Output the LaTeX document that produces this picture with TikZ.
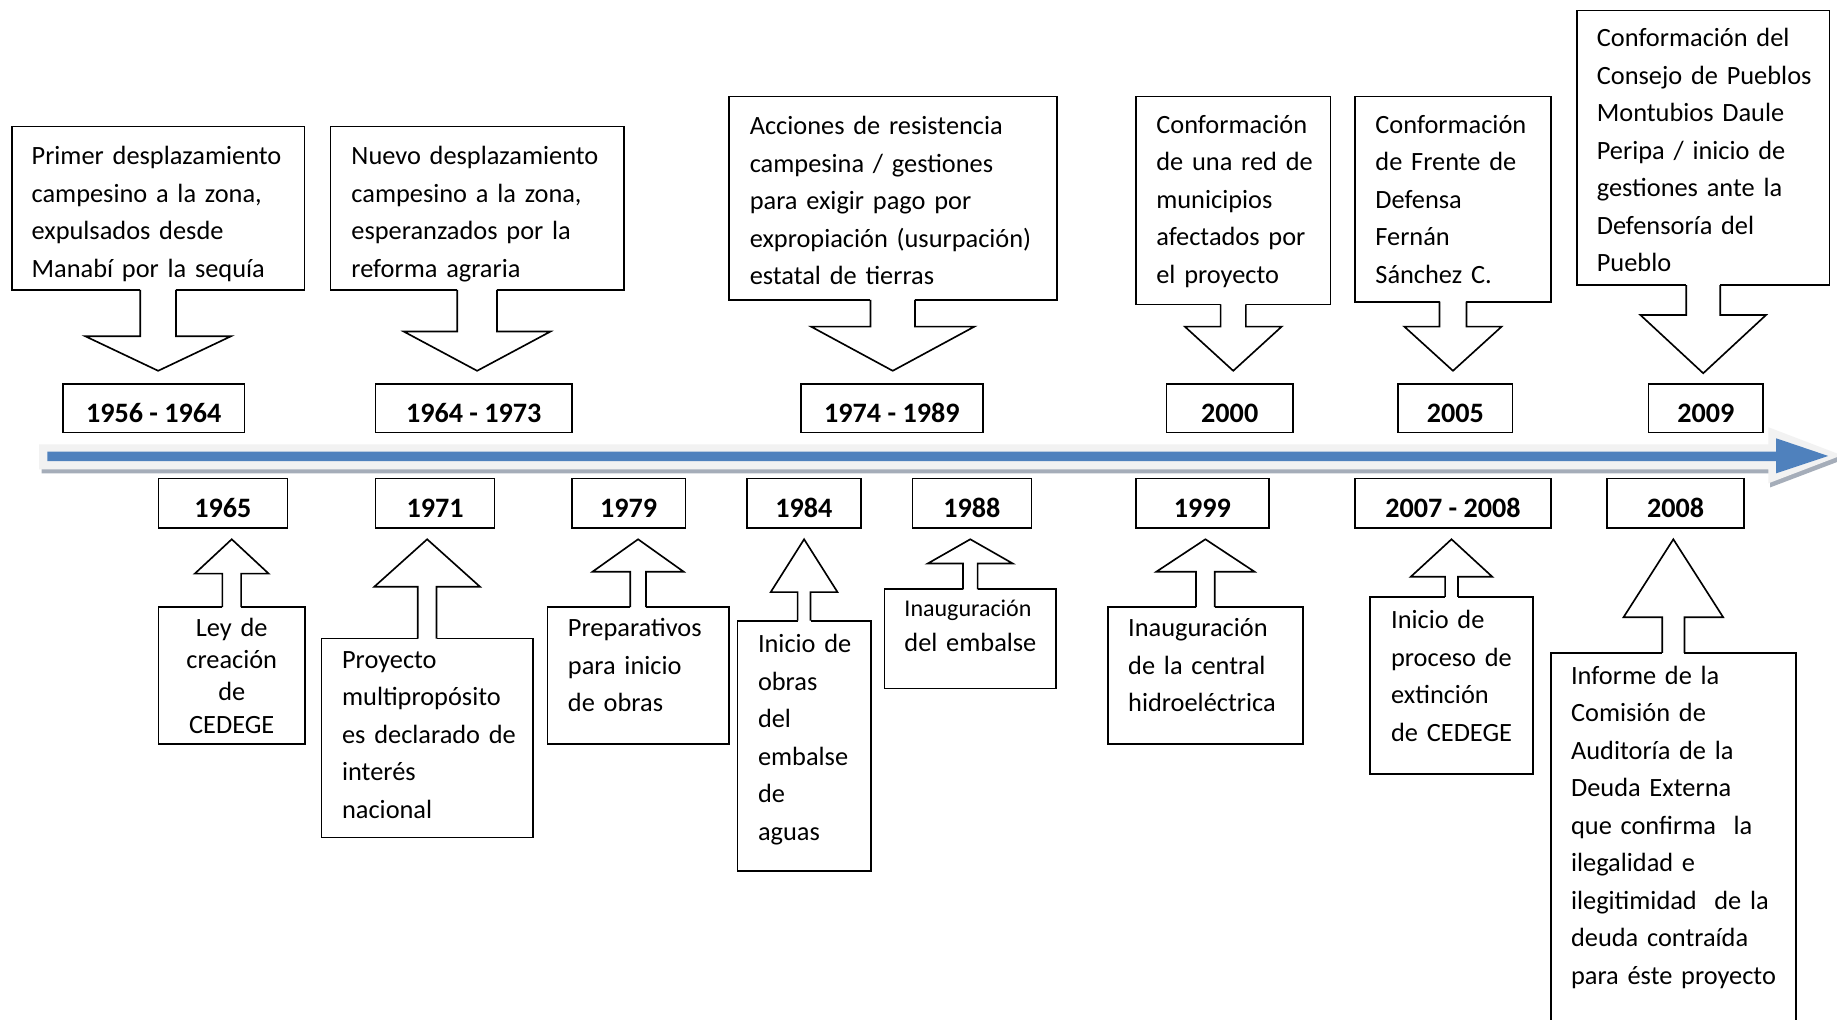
\documentclass[tikz,border=0pt]{standalone}
\usepackage{fontspec}
\setmainfont{Carlito}
\usetikzlibrary{calc,fit}
\definecolor{tlblue}{HTML}{4F81BD}
\definecolor{tllight}{HTML}{F2F2F2}
\definecolor{tlshadow}{HTML}{A5ADB9}
\tikzset{
  box/.style={draw, line width=1.4pt, fill=white, rectangle, inner sep=0pt, outer sep=0pt},
  txt/.style={anchor=north west, inner sep=0pt, outer sep=0pt, text width=330pt, align=left,
              font=\fontsize{22.5}{32}\selectfont},
  yr/.style={anchor=base, inner sep=0pt, font=\fontsize{24}{28}\bfseries\selectfont},
  blk/.style={draw, line width=1.4pt, fill=white, line join=miter},
}
% down block arrow: node, shaft half width, shaft length, head half width, head length
\newcommand\dnarrow[5]{%
  \fill[white] ($(#1.south)+(-#2,-1.2)$) rectangle ++({2*#2},{#3});
  \draw[blk] ($(#1.south)+(-#2,0)$) -- ++(0,#3) -- ++({-(#4-#2)},0) -- ++(#4,#5)
     -- ++(#4,-#5) -- ++({-(#4-#2)},0) -- ++(0,-#3);}
% up block arrow
\newcommand\uparrowblk[5]{%
  \fill[white] ($(#1.north)+(-#2,1.2)$) rectangle ++({2*#2},{-#3});
  \draw[blk] ($(#1.north)+(-#2,0)$) -- ++(0,-#3) -- ++({-(#4-#2)},0) -- ++(#4,-#5)
     -- ++(#4,#5) -- ++({-(#4-#2)},0) -- ++(0,#3);}
\newcommand\bx[5]{\node[box, fit={(#2,#3) (#4,#5)}] (#1) {};}
\begin{document}
\begin{tikzpicture}[x=1pt,y=-1pt]
\useasboundingbox (0,0) rectangle (1568,870);
\fill[white] (0,0) rectangle (1568,870);
\clip (0,0) rectangle (1568,870);

% ---------- timeline arrow ----------
\fill[tlshadow] (35.6,382.7) -- (1511,382.7) -- (1511,368.2) -- (1574,392.1)
   -- (1511,416) -- (1511,404.1) -- (35.6,404.1) -- cycle;
\fill[tllight] (33.5,379.2) -- (1509.5,379.2) -- (1509.5,364.7) -- (1572,388.6)
   -- (1509.5,412.5) -- (1509.5,400.6) -- (33.5,400.6) -- cycle;
\fill[tlblue] (40.4,385.5) -- (1516,385.5) -- (1516,374.1) -- (1560.5,389.2)
   -- (1516,404) -- (1516,393.5) -- (40.4,393.5) -- cycle;

% ---------- top event boxes ----------
\bx{A}{10}{108}{260}{247.5}
\bx{B}{282}{108}{532.5}{247.5}
\bx{C}{622}{82.5}{902}{256}
\bx{D}{969.5}{82.5}{1135.8}{259.8}
\bx{E}{1156.8}{82.5}{1323.6}{257.5}
\bx{F}{1346.1}{9.1}{1561.5}{243.3}

\node[txt] (tA) at (27,120.8) {\rule{0pt}{20pt}Primer desplazamiento\\campesino a la zona,\\expulsados desde\\Manabí por la sequía};
\node[txt] (tB) at (300,120.8) {\rule{0pt}{20pt}Nuevo desplazamiento\\campesino a la zona,\\esperanzados por la\\reforma agraria};
\node[txt] (tC) at (640,95.2) {\rule{0pt}{20pt}Acciones de resistencia\\campesina / gestiones\\para exigir pago por\\expropiación (usurpación)\\estatal de tierras};
\node[txt] (tD) at (987,93.8) {\rule{0pt}{20pt}Conformación\\de una red de\\municipios\\afectados por\\el proyecto};
\node[txt] (tE) at (1174,93.8) {\rule{0pt}{20pt}Conformación\\de Frente de\\Defensa\\Fernán\\Sánchez C.};
\node[txt] (tF) at (1363,19.8) {\rule{0pt}{20pt}Conformación del\\Consejo de Pueblos\\Montubios Daule\\Peripa / inicio de\\gestiones ante la\\Defensoría del\\Pueblo};

% ---------- top year boxes ----------
\bx{y1956}{53.6}{327.8}{208.8}{369.3}
\bx{y1964}{320.5}{327.8}{488.3}{369.3}
\bx{y1974}{683.7}{327.8}{838.8}{369.3}
\bx{y2000}{995.6}{327.8}{1103.7}{369.3}
\bx{y2005}{1193.3}{327.8}{1291}{369.3}
\bx{y2009}{1407.2}{327.8}{1504.9}{369.3}
\node[yr] (ty1956) at ($(y1956.south)+(0,-8.5)$) {1956 - 1964};
\node[yr] (ty1964) at ($(y1964.south)+(0,-8.5)$) {1964 - 1973};
\node[yr] (ty1974) at ($(y1974.south)+(0,-8.5)$) {1974 - 1989};
\node[yr] (ty2000) at ($(y2000.south)+(0,-8.5)$) {2000};
\node[yr] (ty2005) at ($(y2005.south)+(0,-8.5)$) {2005};
\node[yr] (ty2009) at ($(y2009.south)+(0,-8.5)$) {2009};

% ---------- down arrows ----------
\dnarrow{A}{15.25}{39.5}{62.2}{29.5}
\dnarrow{B}{17}{35.5}{62.6}{33.5}
\dnarrow{C}{19}{22.8}{69.7}{37.7}
\dnarrow{D}{10.8}{19}{41.3}{37.7}
\dnarrow{E}{11.5}{21.3}{41.5}{37.7}
\dnarrow{F}{14.5}{25.6}{53.6}{49.7}

% ---------- bottom year boxes ----------
\bx{z1965}{135.2}{408.5}{245.4}{450.6}
\bx{z1971}{320.5}{408.5}{422.2}{450.6}
\bx{z1979}{488.3}{408.5}{585}{450.6}
\bx{z1984}{637.5}{408.5}{734.7}{450.6}
\bx{z1988}{778.8}{408.5}{880.3}{450.6}
\bx{z1999}{969.5}{408.5}{1083.2}{450.6}
\bx{z2007}{1156.8}{408.5}{1323.6}{450.6}
\bx{z2008}{1371.6}{408.5}{1488.8}{450.6}
\node[yr] (tz1965) at ($(z1965.south)+(0,-9.2)$) {1965};
\node[yr] (tz1971) at ($(z1971.south)+(0,-9.2)$) {1971};
\node[yr] (tz1979) at ($(z1979.south)+(0,-9.2)$) {1979};
\node[yr] (tz1984) at ($(z1984.south)+(0,-9.2)$) {1984};
\node[yr] (tz1988) at ($(z1988.south)+(0,-9.2)$) {1988};
\node[yr] (tz1999) at ($(z1999.south)+(0,-9.2)$) {1999};
\node[yr] (tz2007) at ($(z2007.south)+(0,-9.2)$) {2007 - 2008};
\node[yr] (tz2008) at ($(z2008.south)+(0,-9.2)$) {2008};

% ---------- bottom event boxes ----------
\bx{b1965}{135.2}{518.2}{260.4}{635}
\bx{b1971}{274.4}{545.1}{454.8}{714.8}
\bx{b1979}{467.3}{518.2}{622}{635}
\bx{b1984}{629.5}{529.8}{743.2}{743.2}
\bx{b1988}{755}{503}{901.4}{587.8}
\bx{b1999}{945.5}{518.2}{1112.3}{635}
\bx{b2007}{1169.3}{509.4}{1308.6}{660.9}
\bx{b2008}{1323.6}{557.3}{1533}{890}

\node[txt, anchor=north, text width=124pt, align=center, font=\fontsize{22.5}{27.4}\selectfont] (t1965) at (197.8,523.5) {\rule{0pt}{20pt}Ley de\\creación\\de\\CEDEGE};
\node[txt] (t1971) at (292,550.3) {\rule{0pt}{20pt}Proyecto\\multipropósito\\es declarado de\\interés\\nacional};
\node[txt] (t1979) at (484.8,523.5) {\rule{0pt}{20pt}Preparativos\\para inicio\\de obras};
\node[txt] (t1984) at (647,537.2) {\rule{0pt}{20pt}Inicio de\\obras\\del\\embalse\\de\\aguas};
\node[txt, font=\fontsize{22.5}{29.9}\selectfont] (t1988) at (772,505.8) {\rule{0pt}{20pt}{\fontsize{20.5}{29.9}\selectfont Inauguración}\\del embalse};
\node[txt] (t1999) at (963,523.5) {\rule{0pt}{20pt}Inauguración\\de la central\\hidroeléctrica};
\node[txt] (t2007) at (1187.4,516.8) {\rule{0pt}{20pt}Inicio de\\proceso de\\extinción\\de CEDEGE};
\node[txt] (t2008) at (1341,564) {\rule{0pt}{20pt}Informe de la\\Comisión de\\Auditoría de la\\Deuda Externa\\que confirma\ \ la\\ilegalidad e\\ilegitimidad\ \ de la\\deuda contraída\\para éste proyecto};

% ---------- up arrows ----------
\uparrowblk{b1965}{8}{28.6}{31.5}{29.3}
\uparrowblk{b1971}{8}{44.3}{45.1}{40.5}
\uparrowblk{b1979}{6.75}{30.2}{38.9}{27.7}
\uparrowblk{b1984}{5.5}{24.4}{28.5}{45.1}
\uparrowblk{b1988}{6.25}{22}{36.3}{20.7}
\uparrowblk{b1999}{8}{30.2}{41.9}{27.7}
\uparrowblk{b2007}{5.5}{17.1}{34.8}{32}
\uparrowblk{b2008}{9.5}{30.5}{42.5}{66.5}
\end{tikzpicture}
\end{document}
